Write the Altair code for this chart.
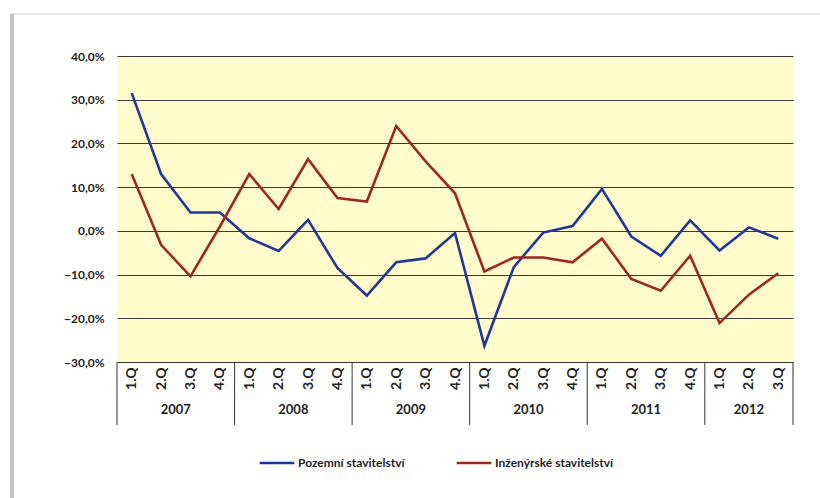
import json
import altair as alt
import pandas as pd

# Quarterly year-on-year change of construction output, in %
quarters = ["1.Q", "2.Q", "3.Q", "4.Q"] * 5 + ["1.Q", "2.Q", "3.Q"]
years = [2007] * 4 + [2008] * 4 + [2009] * 4 + [2010] * 4 + [2011] * 4 + [2012] * 3
pozemni = [31.5, 13.0, 4.2, 4.2, -1.7, -4.6, 2.5, -8.5, -14.8, -7.2, -6.3, -0.5,
           -26.3, -8.3, -0.4, 1.1, 9.6, -1.3, -5.7, 2.4, -4.5, 0.8, -1.8]
inzenyrske = [13.0, -3.2, -10.4, 1.0, 13.0, 5.0, 16.4, 7.5, 6.7, 24.0, 15.9, 8.6,
              -9.3, -6.1, -6.1, -7.2, -1.8, -11.0, -13.7, -5.7, -21.1, -14.6, -9.7]
series_names = ["Pozemní stavitelství", "Inženýrské stavitelství"]
series_colors = ["#23379a", "#9a2a1e"]
y_ticks = [-30, -20, -10, 0, 10, 20, 30, 40]

W, H = 676, 306
FONT = "Lato, 'Open Sans', sans-serif"
TEXT = "#1e1e1e"

rows = []
for name, vals in zip(series_names, [pozemni, inzenyrske]):
    for i, v in enumerate(vals):
        rows.append({"idx": i, "quarter": quarters[i], "year": years[i],
                     "series": name, "value": v})
df = pd.DataFrame(rows)

idx_df = pd.DataFrame({"idx": range(len(years)), "year": years})
year_df = idx_df.groupby("year", as_index=False)["idx"].mean().rename(columns={"idx": "center"})
year_df["label"] = year_df["year"].astype(str)
starts = idx_df.groupby("year")["idx"].min().tolist()
bound_df = pd.DataFrame({"pos": [s - 0.5 for s in starts] + [len(years) - 0.5]})

xs = alt.Scale(domain=[-0.5, len(years) - 0.5], nice=False, zero=False)
ys = alt.Scale(domain=[-30, 40], nice=False, zero=False)

x_axis = alt.Axis(
    values=list(range(len(years))),
    labelExpr=json.dumps(quarters) + "[datum.value]",
    labelAngle=-90, labelPadding=5, labelFontSize=14, labelColor=TEXT,
    labelFont=FONT, labelFontWeight="bold", ticks=False, grid=False, domain=True,
    domainColor="#333333", domainWidth=1, title=None,
)

lines = alt.Chart(df).mark_line(strokeWidth=2.6).encode(
    x=alt.X("idx:Q", scale=xs, axis=x_axis),
    y=alt.Y("value:Q", scale=ys, axis=alt.Axis(
        values=y_ticks,
        labelExpr="replace(format(datum.value, '.1f'), '.', ',') + '%'",
        grid=True, gridColor="#3a3a3a", gridWidth=1.2, ticks=False, domain=False,
        title=None, labelPadding=13, labelFontSize=12, labelColor=TEXT,
        labelFont=FONT, labelFontWeight="bold")),
    color=alt.Color("series:N", sort=series_names,
                    scale=alt.Scale(domain=series_names, range=series_colors),
                    legend=alt.Legend(orient="none", legendX=141, legendY=388,
                                      direction="horizontal", title=None,
                                      symbolType="stroke", symbolStrokeWidth=2.6,
                                      symbolSize=1200, labelFontSize=12,
                                      labelFont=FONT, labelColor=TEXT,
                                      labelFontWeight="bold",
                                      columnPadding=46, labelOffset=2)),
)

year_labels = alt.Chart(year_df).mark_text(
    fontSize=13, font=FONT, color=TEXT, fontWeight="bold"
).encode(
    x=alt.X("center:Q", scale=xs, axis=x_axis),
    y=alt.value(H + 48),
    text="label:N",
)

separators = alt.Chart(bound_df).mark_rule(color="#333333", strokeWidth=1).encode(
    x=alt.X("pos:Q", scale=xs, axis=x_axis),
    y=alt.value(H),
    y2=alt.value(H + 63),
)

# page frame: shaded left edge and faint top edge of the sheet
frame_left = alt.Chart(bound_df).mark_rule(color="#c4c4c4", strokeWidth=4).encode(
    x=alt.value(-105), y=alt.value(-42), y2=alt.value(442),
)
frame_top = alt.Chart(bound_df).mark_rule(color="#e6e6e6", strokeWidth=2).encode(
    x=alt.value(-105), x2=alt.value(W + 27), y=alt.value(-42),
)

chart = alt.layer(frame_top, frame_left, lines, separators, year_labels).properties(
    width=W, height=H,
    padding={"left": 117, "top": 56, "right": 27, "bottom": 136},
    autosize=alt.AutoSizeParams(type="none"),
    background="white",
).configure_view(fill="#fffbca", strokeWidth=0)

chart.save("out.html", embed_options={"renderer": "svg", "actions": False})
